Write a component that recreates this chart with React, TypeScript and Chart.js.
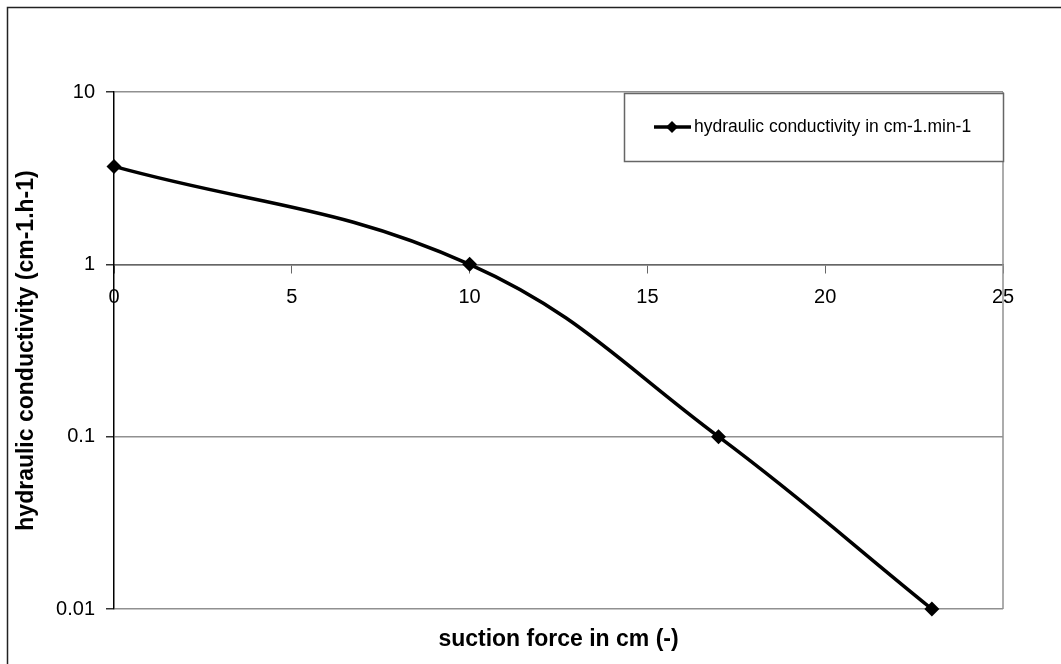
import React, { useEffect, useRef } from "react";
import { Chart, registerables } from "chart.js";

Chart.register(...registerables);

const suctionCm: number[] = [0, 10, 17, 23];
const conductivity: number[] = [3.7, 1, 0.1, 0.01];
const yTickValues: number[] = [0.01, 0.1, 1, 10];
const seriesLabel = "hydraulic conductivity in cm-1.min-1";
const xTitle = "suction force in cm (-)";
const yTitle = "hydraulic conductivity (cm-1.h-1)";

const FONT = "'Liberation Sans', Arial, sans-serif";

const framePlugin = {
  id: "frame",
  beforeDraw(chart: any) {
    const { ctx, width, height } = chart;
    ctx.save();
    ctx.fillStyle = "#ffffff";
    ctx.fillRect(0, 0, width, height);
    ctx.strokeStyle = "#222222";
    ctx.lineWidth = 1.5;
    ctx.strokeRect(7.5, 7.5, width + 50, height + 50);
    ctx.restore();
  },
  beforeDatasetsDraw(chart: any) {
    const { ctx, chartArea } = chart;
    ctx.save();
    ctx.strokeStyle = "#909090";
    ctx.lineWidth = 1.5;
    ctx.beginPath();
    ctx.moveTo(chartArea.right, chartArea.top);
    ctx.lineTo(chartArea.right, chartArea.bottom);
    ctx.stroke();
    ctx.restore();
  },
  afterDraw(chart: any) {
    const { ctx, chartArea } = chart;
    ctx.save();
    // axis titles
    ctx.fillStyle = "#000000";
    ctx.font = `bold 23px ${FONT}`;
    ctx.textAlign = "center";
    ctx.textBaseline = "middle";
    ctx.fillText(xTitle, (chartArea.left + chartArea.right) / 2, 640);
    ctx.save();
    ctx.translate(27, (chartArea.top + chartArea.bottom) / 2);
    ctx.rotate(-Math.PI / 2);
    ctx.fillText(yTitle, 0, 0);
    ctx.restore();

    // legend box
    const lx = 624.5, ly = 93.5, lw = 379, lh = 68;
    ctx.fillStyle = "#ffffff";
    ctx.fillRect(lx, ly, lw, lh);
    ctx.strokeStyle = "#666666";
    ctx.lineWidth = 1.5;
    ctx.strokeRect(lx, ly, lw, lh);
    const cy = 127;
    ctx.strokeStyle = "#000000";
    ctx.lineWidth = 3.5;
    ctx.beginPath();
    ctx.moveTo(654, cy);
    ctx.lineTo(691, cy);
    ctx.stroke();
    ctx.fillStyle = "#000000";
    ctx.beginPath();
    const r = 6;
    ctx.moveTo(672, cy - r);
    ctx.lineTo(672 + r, cy);
    ctx.lineTo(672, cy + r);
    ctx.lineTo(672 - r, cy);
    ctx.closePath();
    ctx.fill();
    ctx.font = `17.5px ${FONT}`;
    ctx.textAlign = "left";
    ctx.textBaseline = "middle";
    ctx.fillText(seriesLabel, 694, cy);
    ctx.restore();
  },
};

export default function App() {
  const canvasRef = useRef<HTMLCanvasElement | null>(null);

  useEffect(() => {
    document.body.style.margin = "0";
    const canvas = canvasRef.current;
    if (!canvas) return;
    const points = suctionCm.map((x, i) => ({ x, y: conductivity[i] }));
    const chart = new Chart(canvas, {
      type: "scatter",
      data: {
        datasets: [
          {
            label: seriesLabel,
            data: points,
            showLine: true,
            borderColor: "#000000",
            backgroundColor: "#000000",
            borderWidth: 3.5,
            tension: 0.4,
            pointStyle: "rectRot",
            pointRadius: 7.5,
            pointBorderWidth: 0,
            pointBackgroundColor: "#000000",
            clip: false as any,
          },
        ],
      },
      options: {
        responsive: false,
        animation: false,
        devicePixelRatio: 1,
        layout: { padding: { left: 0, top: 92, right: 58, bottom: 55 } },
        plugins: {
          legend: { display: false },
          tooltip: { enabled: false },
          title: { display: false },
        },
        scales: {
          x: {
            type: "linear",
            position: { y: 1 } as any,
            min: 0,
            max: 25,
            ticks: {
              stepSize: 5,
              color: "#000000",
              font: { family: FONT, size: 20 },
              padding: 13,
              maxRotation: 0,
            },
            grid: {
              drawOnChartArea: false,
              drawTicks: true,
              tickLength: 8,
              color: "#666666",
            },
            border: { display: true, color: "#666666", width: 1.5 },
          },
          y: {
            type: "logarithmic",
            position: "left",
            min: 0.01,
            max: 10,
            afterFit: (scale: any) => {
              scale.width = 114;
            },
            afterBuildTicks: (scale: any) => {
              scale.ticks = yTickValues.map((v) => ({ value: v }));
            },
            ticks: {
              color: "#000000",
              font: { family: FONT, size: 20 },
              padding: 11,
              callback: (v: any) => String(Number(v)),
            },
            grid: {
              color: "#909090",
              lineWidth: 1.5,
              tickLength: 8,
              tickColor: "#333333",
            },
            border: { display: true, color: "#000000", width: 1.5 },
          },
        },
      },
      plugins: [framePlugin],
    });
    return () => chart.destroy();
  }, []);

  return (
    <div style={{ position: "absolute", left: 0, top: 0, width: 1061, height: 664 }}>
      <canvas ref={canvasRef} width={1061} height={664} style={{ width: 1061, height: 664 }} />
    </div>
  );
}
